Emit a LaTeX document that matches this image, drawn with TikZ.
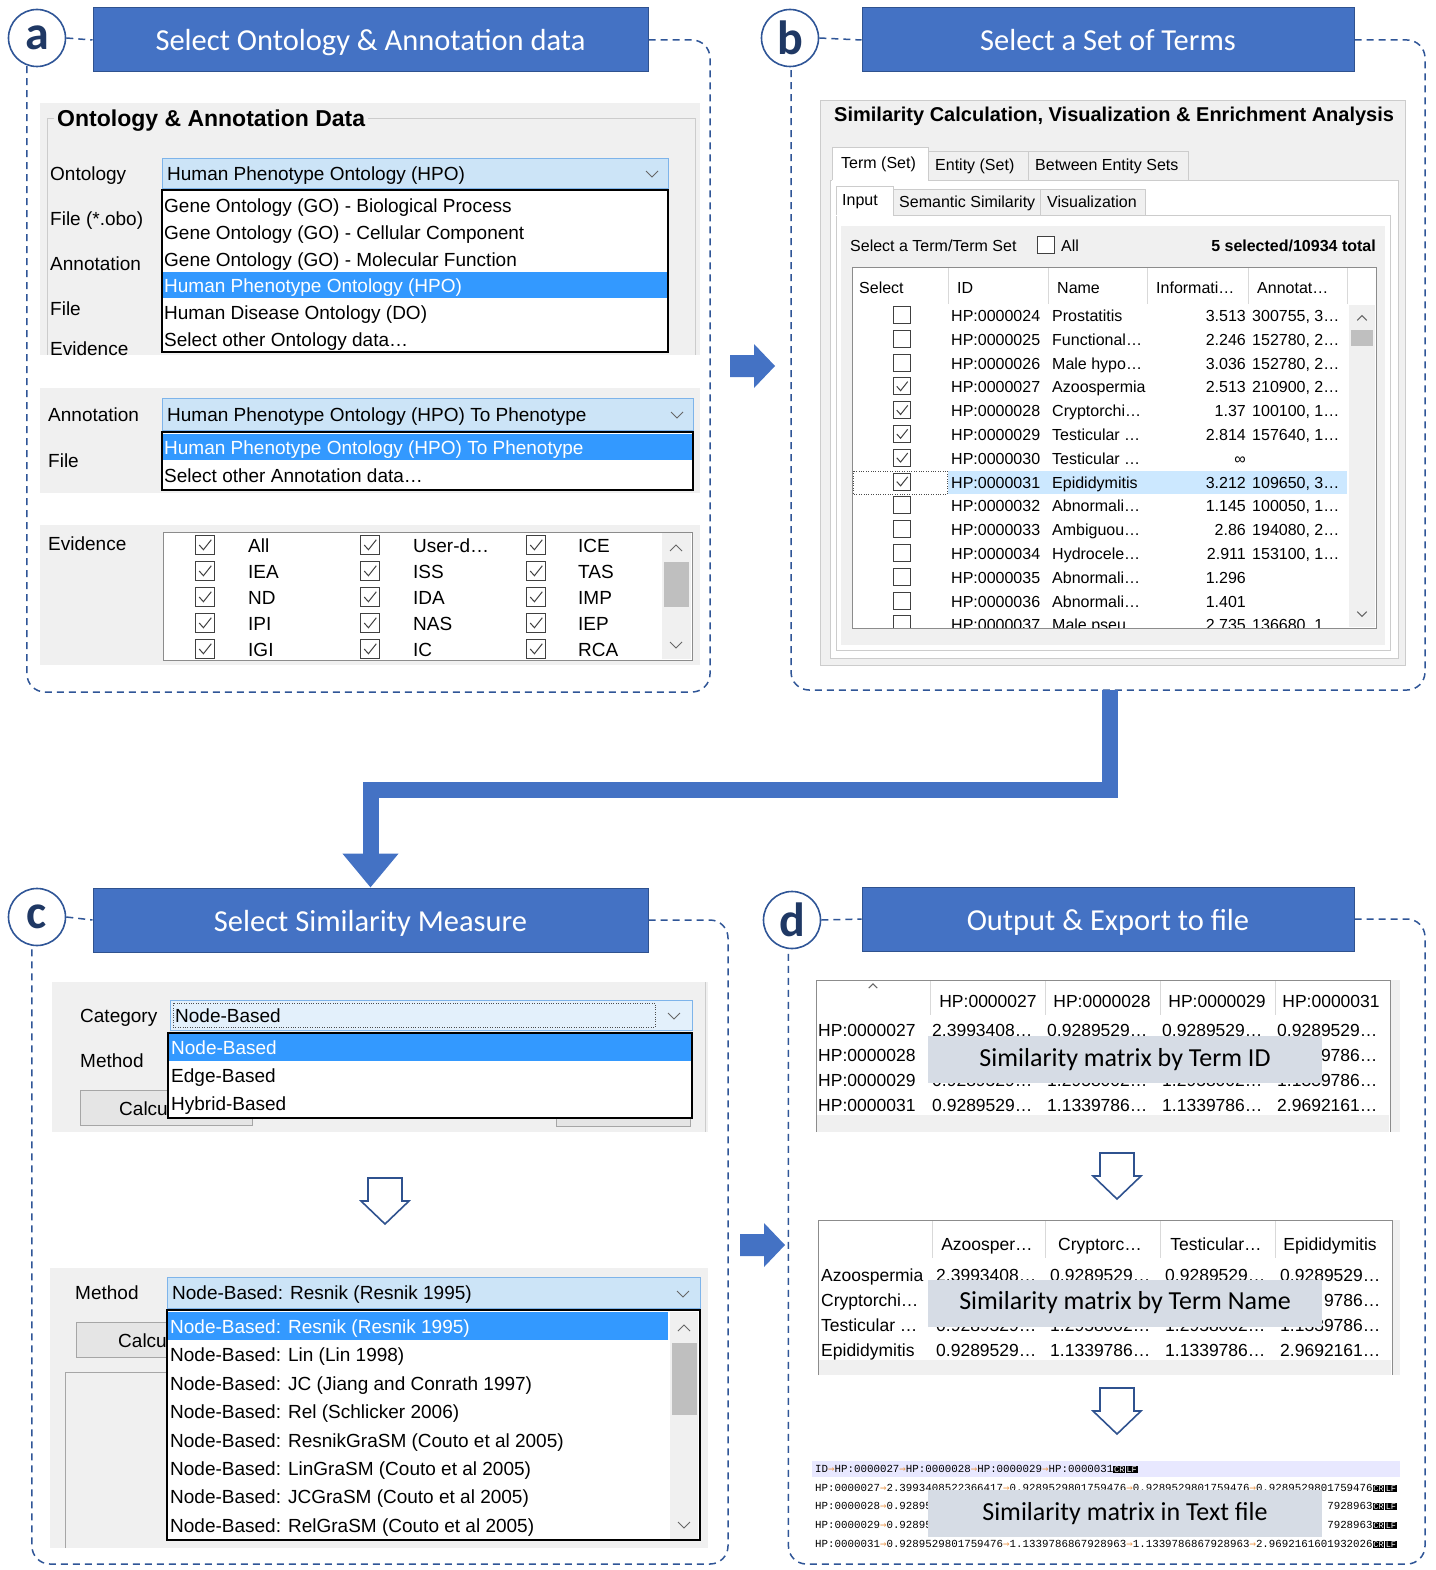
\documentclass[tikz,border=0pt]{standalone}
\usepackage{fontspec}
\usepackage{xcolor}
\usetikzlibrary{arrows.meta,positioning}
\setmainfont{Liberation Sans}
\newfontfamily\guifont{Liberation Sans}
\newfontfamily\headfont{Carlito}
\newfontfamily\codefont{Liberation Mono}
\newfontfamily\arrowfont{DejaVu Sans Mono}

\definecolor{titleblue}{HTML}{4472C4}
\definecolor{headline}{HTML}{2F528F}
\definecolor{frameblue}{HTML}{2F5597}
\definecolor{navy}{HTML}{1F3864}
\definecolor{guibg}{HTML}{F0F0F0}
\definecolor{combofill}{HTML}{CCE4F7}
\definecolor{comboline}{HTML}{7EB4EA}
\definecolor{selblue}{HTML}{3399FF}
\definecolor{rowblue}{HTML}{CCE8FF}
\definecolor{overlaygray}{HTML}{D6DCE5}
\definecolor{linehl}{HTML}{E8E8FF}
\definecolor{arroworange}{HTML}{EE9A4D}

\newcommand\tabarrow{{\color{arroworange}\arrowfont →}}
\newcommand\crlfmark{{\setlength\fboxsep{0.8pt}\fontsize{8.5}{8.5}\selectfont\colorbox{black}{\textcolor{white}{CR}}\hspace{0.5pt}\colorbox{black}{\textcolor{white}{LF}}}}

\tikzset{
  boxedge/.style={draw=black!75,line width=1},
  checkmark/.style={draw=black!75,line width=1},
  chevline/.style={draw=black!60,line width=1},
  tabedge/.style={draw=black!20,line width=0.8},
  groupline/.style={draw=black!20,line width=0.8},
  combo/.style={fill=combofill,draw=comboline,line width=0.8},
  droplist/.style={fill=white,draw=black,line width=1.4},
  hollowline/.style={draw=headline,line width=1.6,fill=white},
  flowline/.style={draw=titleblue,line width=16,-{Triangle[width=54pt,length=34pt]}},
}

\begin{document}
\begin{tikzpicture}[x=1pt,y=-1pt,
  headbox/.style={fill=titleblue,draw=headline,line width=1,text=white,minimum height=64,inner sep=0,text height=22pt,text depth=0pt,font=\headfont\fontsize{30.5}{32}\selectfont},
  stagelabel/.style={circle,draw=frameblue,line width=1.6,fill=white,minimum size=57,inner sep=0,text=navy,font=\headfont\bfseries\fontsize{48}{48}\selectfont},
  stageframe/.style={draw=frameblue,line width=1.5,dash pattern=on 7pt off 5pt,rounded corners=18},
  guia/.style={anchor=west,inner sep=0,text height=15pt,text depth=0pt,font=\guifont\fontsize{19}{21}\selectfont},
  guib/.style={guia,text height=13pt,font=\guifont\fontsize{16}{18}\selectfont},
  guid/.style={guia,text height=16pt,font=\guifont\fontsize{17.5}{19}\selectfont},
  overlaybox/.style={fill=overlaygray,minimum width=394,minimum height=47,inner sep=0,font=\headfont\fontsize{26}{28}\selectfont},
  codeline/.style={anchor=west,inner sep=0,font=\codefont\fontsize{10.8}{12}\selectfont},
  chkon/.pic={\draw[boxedge,fill=white] (-9,-9) rectangle (9,9); \draw[checkmark] (-5.5,0) -- (-1.5,4.5) -- (6,-5);},
  chkoff/.pic={\draw[boxedge,fill=white] (-9,-9) rectangle (9,9);},
  chevdown/.pic={\draw[chevline] (-6,-3) -- (0,3) -- (6,-3);},
  chevup/.pic={\draw[chevline] (-6,3) -- (0,-3) -- (6,3);},
  blockarrow/.pic={\fill[titleblue] (0,-11) -- (24,-11) -- (24,-22) -- (45,0) -- (24,22) -- (24,11) -- (0,11) -- cycle;},
  hollowarrow/.pic={\draw[hollowline] (-17,0) -- (17,0) -- (17,23) -- (24,23) -- (0,46) -- (-24,23) -- (-17,23) -- cycle;}]
\useasboundingbox[fill=white] (0,0) rectangle (1435,1570);

% stage a: ontology and annotation data
\node[stagelabel] (ca) at (37,38) {a};
\node[headbox,minimum width=555] (ta) at (370.5,40) {Select Ontology \& Annotation data};
\draw[stageframe] (ca.east) -- (ta.west) (ta.east) -| (710,692) -| (ca.-110);

\fill[guibg] (40,103) rectangle (700,355);
\draw[groupline] (54,118) -- (47,118) -- (47,355) (368,118) -- (695,118) -- (695,355);
\node[guia,font=\guifont\bfseries\fontsize{23}{25}\selectfont] (agrp) at (57,119) {Ontology \& Annotation Data};
\foreach \lab/\ly [count=\i] in {Ontology/173,File (*.obo)/218,Annotation/263,File/308,Evidence/348}
  \node[guia] (alab\i) at (50,\ly) {\lab};
\draw[combo] (162,158) rectangle (668,188);
\node[guia] (aont) at (167,173) {Human Phenotype Ontology (HPO)};
\pic at (652,174) {chevdown};
\draw[droplist] (162,190) rectangle (668,352);
\fill[selblue] (163,272) rectangle (667,298);
\foreach \txt/\tc [count=\i from 0] in {Gene Ontology (GO) - Biological Process/black,Gene Ontology (GO) - Cellular Component/black,Gene Ontology (GO) - Molecular Function/black,Human Phenotype Ontology (HPO)/white,Human Disease Ontology (DO)/black,Select other Ontology data…/black}{
  \pgfmathsetmacro\ry{205+26.8*\i}
  \node[guia,text=\tc] (aopt\i) at (164,\ry) {\txt};
}

\fill[guibg] (40,388) rectangle (700,493);
\node[guia] (aann) at (48,414) {Annotation};
\node[guia] (afile) at (48,460) {File};
\draw[combo] (162,398) rectangle (693,430);
\node[guia] (aanv) at (167,414) {Human Phenotype Ontology (HPO) To Phenotype};
\pic at (677,415) {chevdown};
\draw[droplist] (162,432) rectangle (693,490);
\fill[selblue] (163,434) rectangle (692,460);
\node[guia,text=white] (aan1) at (164,447) {Human Phenotype Ontology (HPO) To Phenotype};
\node[guia] (aan2) at (164,475) {Select other Annotation data…};

\fill[guibg] (40,525) rectangle (700,665);
\node[guia] (aev) at (48,543) {Evidence};
\draw[draw=black!45,fill=white,line width=1] (163,532) rectangle (692,660);
\begin{scope}
\clip (164,533) rectangle (661,659);
\foreach \ea/\eb/\ec [count=\i from 0] in {All/User-d…/ICE,IEA/ISS/TAS,ND/IDA/IMP,IPI/NAS/IEP,IGI/IC/RCA}{
  \pgfmathsetmacro\ry{545+26*\i}
  \pic[scale=1.05] at (205,\ry) {chkon};
  \node[guia] (eva\i) at (248,\ry) {\ea};
  \pic[scale=1.05] at (370,\ry) {chkon};
  \node[guia] (evb\i) at (413,\ry) {\eb};
  \pic[scale=1.05] at (536,\ry) {chkon};
  \node[guia] (evc\i) at (578,\ry) {\ec};
}
\end{scope}
\fill[guibg] (662,533) rectangle (691,659);
\fill[black!25] (664,562) rectangle (689,607);
\pic at (676,548) {chevup};
\pic at (676,645) {chevdown};

\pic at (730,366) {blockarrow};

% stage b: set of terms
\node[stagelabel] (cb) at (790,38) {b};
\node[headbox,minimum width=492] (tb) at (1108,40) {Select a Set of Terms};
\draw[stageframe] (cb.east) -- (tb.west) (tb.east) -| (1425,690) -| (cb.-88);

\fill[guibg] (820,100) rectangle (1405,665);
\draw[groupline] (820,100) rectangle (1405,665);
\node[guia,font=\guifont\bfseries\fontsize{20}{22}\selectfont] (bgrp) at (834,114) {Similarity Calculation, Visualization \& Enrichment Analysis};
\draw[tabedge,fill=white] (830,180) rectangle (1398,658);
\draw[tabedge,fill=guibg] (928,151) rectangle (1028,180);
\draw[tabedge,fill=guibg] (1028,151) rectangle (1188,180);
\fill[white] (832,147) rectangle (928,181);
\draw[tabedge] (832,180) -- (832,147) -- (928,147) -- (928,180);
\node[guib] (btab1) at (841,162) {Term (Set)};
\node[guib] (btab2) at (935,164) {Entity (Set)};
\node[guib] (btab3) at (1035,164) {Between Entity Sets};
\draw[tabedge,fill=white] (836,215) rectangle (1390,650);
\fill[guibg] (841,226) rectangle (1385,645);
\draw[tabedge,fill=guibg] (893,189) rectangle (1040,215);
\draw[tabedge,fill=guibg] (1040,189) rectangle (1145,215);
\fill[white] (836,186) rectangle (893,216);
\draw[tabedge] (836,215) -- (836,186) -- (893,186) -- (893,215);
\node[guib] (bin1) at (842,199) {Input};
\node[guib] (bin2) at (899,201) {Semantic Similarity};
\node[guib] (bin3) at (1047,201) {Visualization};
\node[guib] (bsel) at (850,245) {Select a Term/Term Set};
\node[draw=black!75,line width=1,fill=white,minimum size=17,inner sep=0] (allbox) at (1046,245) {};
\node[guib,right=6pt of allbox] (alltxt) {All};
\node[guib,anchor=east,font=\guifont\bfseries\fontsize{16}{18}\selectfont] (bcount) at (1376,245) {5 selected/10934 total};

\draw[draw=black!45,fill=white,line width=1] (852,267) rectangle (1376,628);
\foreach \sx in {948,1048,1147,1248,1347}
  \draw[black!15] (\sx,268) -- (\sx,304);
\foreach \hd/\hx [count=\i] in {Select/859,ID/957,Name/1057,Informati…/1156,Annotat…/1257}
  \node[guib] (bhd\i) at (\hx,287) {\hd};
\begin{scope}
\clip (853,304) rectangle (1348,627);
\fill[rowblue] (948,471) rectangle (1347,494);
\draw[black!70,dotted] (853,471) rectangle (947,494);
\foreach \id/\nm/\ic/\an/\ck [count=\i from 0] in {
  24/Prostatitis/3.513/{300755, 3…}/0,
  25/Functional…/2.246/{152780, 2…}/0,
  26/Male hypo…/3.036/{152780, 2…}/0,
  27/Azoospermia/2.513/{210900, 2…}/1,
  28/Cryptorchi…/1.37/{100100, 1…}/1,
  29/Testicular …/2.814/{157640, 1…}/1,
  30/Testicular …/∞/{}/1,
  31/Epididymitis/3.212/{109650, 3…}/1,
  32/Abnormali…/1.145/{100050, 1…}/0,
  33/Ambiguou…/2.86/{194080, 2…}/0,
  34/Hydrocele…/2.911/{153100, 1…}/0,
  35/Abnormali…/1.296/{}/0,
  36/Abnormali…/1.401/{}/0,
  37/Male pseu…/2.735/{136680, 1…}/0}{
  \pgfmathsetmacro\ry{315+23.8*\i}
  \ifnum\ck=1 \pic[scale=0.95] at (902,\ry) {chkon}; \else \pic[scale=0.95] at (902,\ry) {chkoff}; \fi
  \node[guib] (bid\i) at (951,\ry) {HP:00000\id};
  \node[guib] (bnm\i) at (1052,\ry) {\nm};
  \node[guib,anchor=east] (bic\i) at (1246,\ry) {\ic};
  \node[guib] (ban\i) at (1252,\ry) {\an};
}
\end{scope}
\fill[guibg] (1349,305) rectangle (1375,627);
\fill[black!25] (1351,330) rectangle (1373,346);
\pic[scale=0.8] at (1362,318) {chevup};
\pic[scale=0.8] at (1362,614) {chevdown};

% from b down to c
\coordinate (bout) at (1110,690);
\coordinate (bturn) at (370.5,790);

% stage c: similarity measure
\node[stagelabel] (cc) at (37,917) {c};
\node[headbox,minimum width=555] (tc) at (370.5,920) {Select Similarity Measure};
\draw[stageframe] (cc.east) -- (tc.west) (tc.east) -| (728,1564) -| (cc.-100);
\draw[flowline] (bout) |- (bturn) -- (tc.north);

\fill[guibg] (52,982) rectangle (708,1132);
\draw[black!20] (705,982) -- (705,1132);
\node[guia] (ccat) at (80,1015) {Category};
\node[guia] (cmeth) at (80,1060) {Method};
\draw[fill=black!10,draw=black!35] (80,1090) rectangle (252,1125);
\node[guia,anchor=east] (ccalc) at (168,1108) {Calcu};
\draw[fill=black!10,draw=black!35] (556,1100) rectangle (690,1126);
\draw[fill=combofill!55,draw=comboline,line width=0.8] (170,1000) rectangle (692,1030);
\draw[black!70,dotted] (173,1003) rectangle (655,1027);
\node[guia] (ccatv) at (175,1015) {Node-Based};
\pic at (674,1016) {chevdown};
\draw[droplist] (168,1033) rectangle (692,1118);
\fill[selblue] (169,1034) rectangle (691,1061);
\foreach \txt/\tc [count=\i from 0] in {Node-Based/white,Edge-Based/black,Hybrid-Based/black}{
  \pgfmathsetmacro\ry{1047+28*\i}
  \node[guia,text=\tc] (ccat\i) at (171,\ry) {\txt};
}

\pic at (385,1178) {hollowarrow};

\fill[guibg] (50,1268) rectangle (708,1548);
\node[guia] (cmeth2) at (75,1292) {Method};
\draw[fill=black!10,draw=black!35] (76,1322) rectangle (200,1357);
\node[guia,anchor=east] (ccalc2) at (167,1340) {Calcu};
\draw[black!35] (65,1548) -- (65,1372) -- (170,1372);
\draw[combo] (167,1277) rectangle (700,1308);
\node[guia] (cmv) at (172,1292) {Node-Based: Resnik (Resnik 1995)};
\pic at (683,1294) {chevdown};
\draw[droplist] (167,1310) rectangle (700,1540);
\fill[selblue] (168,1312) rectangle (668,1340);
\foreach \txt/\tc [count=\i from 0] in {Node-Based: Resnik (Resnik 1995)/white,Node-Based: Lin (Lin 1998)/black,Node-Based: JC (Jiang and Conrath 1997)/black,Node-Based: Rel (Schlicker 2006)/black,Node-Based: ResnikGraSM (Couto et al 2005)/black,Node-Based: LinGraSM (Couto et al 2005)/black,Node-Based: JCGraSM (Couto et al 2005)/black,Node-Based: RelGraSM (Couto et al 2005)/black}{
  \pgfmathsetmacro\ry{1326+28.4*\i}
  \node[guia,text=\tc] (cm\i) at (170,\ry) {\txt};
}
\fill[guibg] (670,1312) rectangle (698,1539);
\fill[black!25] (672,1343) rectangle (697,1415);
\pic at (684,1328) {chevup};
\pic at (684,1525) {chevdown};

\pic at (740,1245) {blockarrow};

% stage d: output and export
\node[stagelabel] (cd) at (792,920) {d};
\node[headbox,minimum width=492] (td) at (1108,919) {Output \& Export to file};
\draw[stageframe] (cd.east) -- (td.west) (td.east) -| (1425,1564) -| (cd.-97);

% matrix by term ID
\fill[black!6] (816,980) rectangle (1400,1132);
\draw[draw=black!45,fill=white,line width=1] (816,1132) -- (816,980) -- (1390,980) -- (1390,1132);
\fill[guibg] (817,1115) rectangle (1389,1132);
\pic[scale=0.7] at (873,986) {chevup};
\foreach \sx in {930,1045,1160,1275}
  \draw[black!15] (\sx,981) -- (\sx,1015);
\foreach \hd/\hx [count=\i] in {HP:0000027/988,HP:0000028/1102,HP:0000029/1217,HP:0000031/1331}
  \node[guid,anchor=center] (dh\i) at (\hx,999) {\hd};
\foreach \lab/\va/\vb/\vc/\vd [count=\i from 0] in {
  HP:0000027/2.3993408…/0.9289529…/0.9289529…/0.9289529…,
  HP:0000029/0.9289529…/1.2958002…/1.2958002…/1.1339786…,
  HP:0000031/0.9289529…/1.1339786…/1.1339786…/2.9692161…}{
  \pgfmathsetmacro\ry{1028+25*\i+25*min(\i,1)}
  \node[guid] (dr\i) at (818,\ry) {\lab};
  \node[guid] (dra\i) at (932,\ry) {\va};
  \node[guid] (drb\i) at (1047,\ry) {\vb};
  \node[guid] (drc\i) at (1162,\ry) {\vc};
  \node[guid] (drd\i) at (1277,\ry) {\vd};
}
\node[guid] (drx) at (818,1053) {HP:0000028};
\node[guid,anchor=east] (drdx) at (drd0.east |- 0,1053) {9786…};
\node[overlaybox] (dov1) at (1125,1059.5) {Similarity matrix by Term ID};

\pic at (1117,1153) {hollowarrow};

% matrix by term name
\fill[black!6] (818,1220) rectangle (1400,1375);
\draw[draw=black!45,fill=white,line width=1] (818,1375) -- (818,1220) -- (1392,1220) -- (1392,1375);
\fill[guibg] (819,1360) rectangle (1391,1375);
\foreach \sx in {932,1045,1160,1275}
  \draw[black!15] (\sx,1221) -- (\sx,1258);
\foreach \hd/\hx [count=\i] in {Azoosper…/987,Cryptorc…/1100,Testicular…/1216,Epididymitis/1330}
  \node[guid,anchor=center] (dn\i) at (\hx,1242) {\hd};
\foreach \lab/\va/\vb/\vc/\vd [count=\i from 0] in {
  Azoospermia/2.3993408…/0.9289529…/0.9289529…/0.9289529…,
  Testicular …/0.9289529…/1.2958002…/1.2958002…/1.1339786…,
  Epididymitis/0.9289529…/1.1339786…/1.1339786…/2.9692161…}{
  \pgfmathsetmacro\ry{1273+25.3*\i+25.3*min(\i,1)}
  \node[guid] (dm\i) at (821,\ry) {\lab};
  \node[guid] (dma\i) at (936,\ry) {\va};
  \node[guid] (dmb\i) at (1050,\ry) {\vb};
  \node[guid] (dmc\i) at (1165,\ry) {\vc};
  \node[guid] (dmd\i) at (1280,\ry) {\vd};
}
\node[guid] (dmx) at (821,1298) {Cryptorchi…};
\node[guid,anchor=east] (dmdx) at (dmd0.east |- 0,1298) {9786…};
\node[overlaybox] (dov2) at (1125,1303) {Similarity matrix by Term Name};

\pic at (1117,1388) {hollowarrow};

% matrix in text file
\fill[linehl] (812,1461) rectangle (1400,1477);
\node[codeline] (tf0) at (815,1469) {ID\tabarrow HP:0000027\tabarrow HP:0000028\tabarrow HP:0000029\tabarrow HP:0000031\crlfmark};
\node[codeline] (tf1) at (815,1488) {HP:0000027\tabarrow 2.3993408522366417\tabarrow 0.9289529801759476\tabarrow 0.9289529801759476\tabarrow 0.9289529801759476\crlfmark};
\node[codeline] (tf2) at (815,1506) {HP:0000028\tabarrow 0.92895};
\node[codeline,anchor=east] (tf2r) at (tf1.east |- 0,1506) {7928963\crlfmark};
\node[codeline] (tf3) at (815,1525) {HP:0000029\tabarrow 0.92895};
\node[codeline,anchor=east] (tf3r) at (tf1.east |- 0,1525) {7928963\crlfmark};
\node[codeline] (tf4) at (815,1544) {HP:0000031\tabarrow 0.9289529801759476\tabarrow 1.1339786867928963\tabarrow 1.1339786867928963\tabarrow 2.9692161601932026\crlfmark};
\node[overlaybox] (dov3) at (1125,1513.5) {Similarity matrix in Text file};
\end{tikzpicture}
\end{document}
